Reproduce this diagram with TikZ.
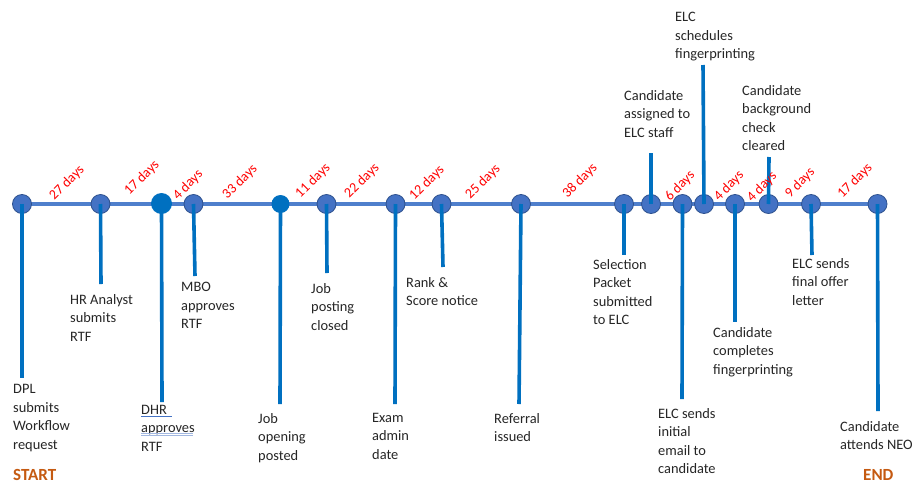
\documentclass[tikz,border=0pt]{standalone}
\usepackage{fontspec}
\setmainfont{Carlito}
\definecolor{lineblue}{HTML}{4F7FCC}
\definecolor{dotfill}{HTML}{4472C4}
\definecolor{dotedge}{HTML}{2F528F}
\definecolor{stemblue}{HTML}{0070C0}
\definecolor{txt}{HTML}{262626}
\definecolor{daysred}{HTML}{FF0000}
\definecolor{startorange}{HTML}{C55A11}
\begin{document}
\begin{tikzpicture}[x=1pt,y=-1pt,
  dot/.style={circle,fill=dotfill,draw=dotedge,line width=0.8pt,minimum size=19pt,inner sep=0pt},
  darkdot/.style={circle,fill=stemblue,draw=none,minimum size=21pt,inner sep=0pt},
  smalldot/.style={circle,fill=stemblue,draw=none,minimum size=18pt,inner sep=0pt},
  stem/.style={draw=stemblue,line width=3.6pt},
  mainline/.style={draw=lineblue,line width=3.8pt},
  lbl/.style={anchor=north west,align=left,inner sep=0pt,text=txt,font=\fontsize{14.4}{18.5}\selectfont},
  dayslbl/.style={rotate=45,inner sep=0pt,text=daysred,font=\fontsize{14}{16}\selectfont},
  ends/.style={anchor=west,inner sep=0pt,text=startorange,font=\fontsize{17}{20}\selectfont\bfseries}]
\useasboundingbox (0,0) rectangle (912,482);
\fill[white] (0,0) rectangle (912,482);
% positions
\coordinate (p1) at (22,204);
\coordinate (p17) at (877.5,204);
\draw[mainline] (p1) -- (p17);
% circles
\node[dot] (c1) at (22,204) {};
\node[dot] (c2) at (100.5,204) {};
\node[darkdot] (c3) at (161.5,203.5) {};
\node[dot] (c4) at (193.5,204) {};
\node[smalldot] (c5) at (280.5,204) {};
\node[dot] (c6) at (326.5,204) {};
\node[dot] (c7) at (395.5,204) {};
\node[dot] (c8) at (441.5,204) {};
\node[dot] (c9) at (521,204) {};
\node[dot] (c10) at (624,204) {};
\node[dot] (c11) at (651,204) {};
\node[dot] (c12) at (682.5,204) {};
\node[dot] (c13) at (704,204) {};
\node[dot] (c14) at (735,204) {};
\node[dot] (c15) at (768.5,204) {};
\node[dot] (c16) at (811,204) {};
\node[dot] (c17) at (877.5,204) {};
% stem ends
\coordinate (e1) at (22,378);
\coordinate (e2) at (101,284);
\coordinate (e3) at (162,402);
\coordinate (e4) at (195,276);
\coordinate (e5) at (280,404);
\coordinate (e6) at (327,273);
\coordinate (e7) at (395,404);
\coordinate (e8) at (443,267);
\coordinate (e9) at (519,404);
\coordinate (e10) at (624,255);
\coordinate (e11) at (651,153);
\coordinate (e12) at (682,399);
\coordinate (e13) at (703,65);
\coordinate (e14) at (735,322);
\coordinate (e15) at (769,157);
\coordinate (e16) at (812,255);
\coordinate (e17) at (878,411);
\foreach \i in {1,...,17} {\draw[stem] (c\i.center) -- (e\i);}
% labels
\node[lbl] (t1) at (13,384.5) {DPL\\submits\\Workflow\\request};
\node[lbl] (t2) at (70,294) {HR Analyst\\submits\\RTF};
\node[lbl] (t3) at (141,405) {DHR\\approves\\RTF};
\node[lbl] (t4) at (181,282) {MBO\\approves\\RTF};
\node[lbl] (t5) at (258,413) {Job\\opening\\posted};
\node[lbl] (t6) at (311,283) {Job\\posting\\closed};
\node[lbl] (t7) at (372,413) {Exam\\admin\\date};
\node[lbl] (t8) at (406,277) {Rank \&\\Score notice};
\node[lbl] (t9) at (494,413) {Referral\\issued};
\node[lbl] (t10) at (593,259) {Selection\\Packet\\submitted\\to ELC};
\node[lbl] (t11) at (624,90) {Candidate\\assigned to\\ELC staff};
\node[lbl] (t12) at (658,408) {ELC sends\\initial\\email to\\candidate};
\node[lbl] (t13) at (675,12) {ELC\\schedules\\fingerprinting};
\node[lbl] (t14) at (713,327) {Candidate\\completes\\fingerprinting};
\node[lbl] (t15) at (742,85) {Candidate\\background\\check\\cleared};
\node[lbl] (t16) at (792,258) {ELC sends\\final offer\\letter};
\node[lbl] (t17) at (840,421) {Candidate\\attends NEO};
% grammar marks under DHR / approves
\draw[draw=dotfill,line width=0.8pt] (141,416) -- (172,416);
\draw[draw=dotfill!50,line width=0.7pt] (141,433.5) -- (193,433.5);
\draw[draw=dotfill!50,line width=0.7pt] (141,435.5) -- (193,435.5);
% START / END
\node[ends] (st) at (13,474.5) {START};
\node[ends] (en) at (863,474.5) {END};
% day counts
\node[dayslbl] (d1) at (67,183) {27 days};
\node[dayslbl] (d2) at (142,178) {17 days};
\node[dayslbl] (d3) at (188,185) {4 days};
\node[dayslbl] (d4) at (240,182) {33 days};
\node[dayslbl] (d5) at (313,181) {11 days};
\node[dayslbl] (d6) at (362,181) {22 days};
\node[dayslbl] (d7) at (427,183) {12 days};
\node[dayslbl] (d8) at (483,182) {25 days};
\node[dayslbl] (d9) at (580,181) {38 days};
\node[dayslbl] (d10) at (680,186) {6 days};
\node[dayslbl] (d11) at (729,186) {4 days};
\node[dayslbl] (d12) at (762,187) {4 days};
\node[dayslbl] (d13) at (800,183) {9 days};
\node[dayslbl] (d14) at (855,181) {17 days};
\end{tikzpicture}
\end{document}
